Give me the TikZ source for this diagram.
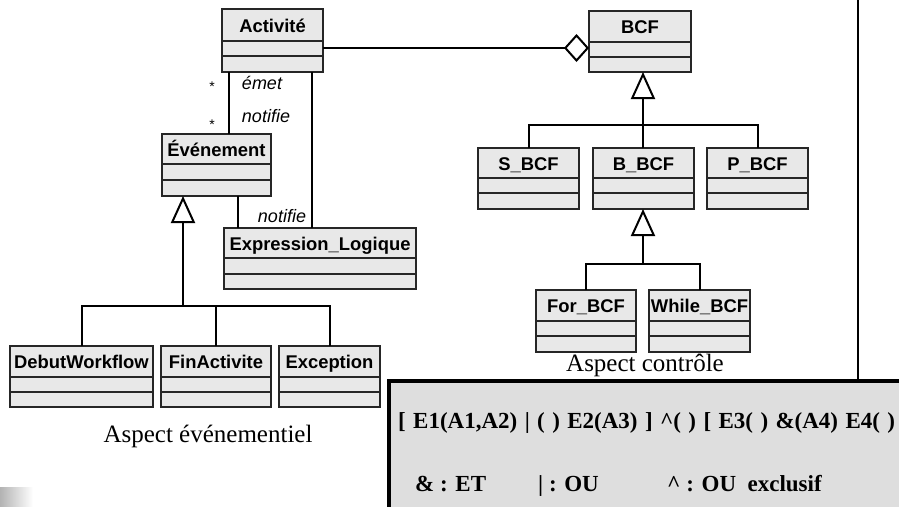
\documentclass[tikz,border=0pt]{standalone}
\usepackage{fontspec}
\setmainfont{Liberation Serif}
\setsansfont{Liberation Sans}
\usetikzlibrary{arrows.meta}
\definecolor{clsfill}{HTML}{E8E8E8}
\definecolor{boxfill}{HTML}{DEDEDE}
\tikzset{
  clsbox/.style={draw=black!85, line width=1.3pt, fill=clsfill, inner sep=0pt, outer sep=0pt},
  clstitle/.style={font=\sffamily\bfseries\fontsize{18.4}{20}\selectfont, inner sep=0pt, anchor=base},
  divline/.style={draw=black!85, line width=1.3pt},
  conn/.style={draw=black, line width=2pt},
  gentip/.style={conn, -{Triangle[open, length=27pt, width=24pt, line width=2pt, fill=white]}},
  aggtip/.style={conn, -{Diamond[open, length=25pt, width=28pt, line width=2pt, fill=white]}},
  rolelbl/.style={font=\sffamily\itshape\fontsize{18}{20}\selectfont, inner sep=0pt, anchor=base},
  starlbl/.style={font=\sffamily\fontsize{14}{16}\selectfont, inner sep=0pt},
  caption/.style={font=\fontsize{25}{27}\selectfont, inner sep=0pt, anchor=base},
  boxtxt/.style={font=\bfseries\fontsize{23}{25}\selectfont, inner sep=0pt, anchor=base west}
}
% name, x1, y1, x2, y2, divider1, divider2, title
\newcommand{\umlcls}[8]{%
  \node[clsbox, anchor=north west, minimum width={(#4-#2)*1pt}, minimum height={(#5-#3)*1pt}] (#1) at (#2,#3) {};
  \node[clstitle] (#1-t) at ({(#2+#4)/2},{(#3+#6)/2+7}) {#8};
  \draw[divline] (#2,#6) -- (#4,#6);
  \draw[divline] (#2,#7) -- (#4,#7);
}
\begin{document}
\begin{tikzpicture}[x=1pt,y=-1pt]
\useasboundingbox (0,0) rectangle (899,506);
% classes
\umlcls{act}{222}{9}{323}{72}{41}{56}{Activité}
\umlcls{evt}{162}{134}{271}{196}{164}{180}{Événement}
\umlcls{expr}{224}{228}{416}{289}{258}{274}{Expression\_Logique}
\umlcls{debut}{10}{346}{153}{407}{377}{392}{DebutWorkflow}
\umlcls{fin}{161}{346}{271}{407}{377}{392}{FinActivite}
\umlcls{exc}{279}{346}{380}{407}{377}{392}{Exception}
\umlcls{bcf}{589}{11}{691}{72}{42}{57}{BCF}
\umlcls{sbcf}{478}{148}{579}{209}{178}{193}{S\_BCF}
\umlcls{bbcf}{593}{148}{694}{209}{178}{193}{B\_BCF}
\umlcls{pbcf}{707}{148}{808}{209}{178}{193}{P\_BCF}
\umlcls{forbcf}{536}{290}{636}{352}{321}{336}{For\_BCF}
\umlcls{whilebcf}{649}{290}{750}{352}{321}{336}{While\_BCF}
% helper coordinates
\coordinate (xa) at (229,0);
\coordinate (xb) at (312,0);
\coordinate (xc) at (238,0);
\coordinate (ya) at (0,48);
\coordinate (evtj) at (183,306);
\coordinate (bcfj) at (643,125);
\coordinate (bbcfj) at (643,264);
% associations
\draw[conn] (act.south -| xa) -- (evt.north -| xa);
\draw[conn] (act.south -| xb) -- (expr.north -| xb);
\draw[conn] (evt.south -| xc) -- (expr.north -| xc);
\draw[aggtip] (act.east |- ya) -- (bcf.west |- ya);
% labels
\node[starlbl] (s1) at (212,87) {*};
\node[starlbl] (s2) at (212,125) {*};
\node[rolelbl] (l1) at (262,89) {émet};
\node[rolelbl] (l2) at (266,122) {notifie};
\node[rolelbl] (l3) at (282,222) {notifie};
% generalizations: events
\draw[conn] (debut.north) |- (evtj);
\draw[conn] (exc.north) |- (evtj);
\draw[conn] (fin.north) -- (fin.north |- evtj);
\draw[gentip] (evtj) -- (evtj |- evt.south);
% generalizations: BCF
\draw[conn] (sbcf.north) |- (bcfj);
\draw[conn] (pbcf.north) |- (bcfj);
\draw[gentip] (bbcf.north -| bcfj) -- (bcfj |- bcf.south);
\draw[conn] (forbcf.north) |- (bbcfj);
\draw[conn] (whilebcf.north) |- (bbcfj);
\draw[gentip] (bbcfj) -- (bbcfj |- bbcf.south);
% captions
\node[caption] (cap1) at (208,442) {Aspect événementiel};
\node[caption] (cap2) at (645,371) {Aspect contrôle};
% separator line
\coordinate (vtop) at (858,0);
\coordinate (vbot) at (858,381);
\draw[conn] (vtop) -- (vbot);
% bottom box
\fill[boxfill] (389,381) rectangle (905,512);
\draw[line width=4pt] (389,512) -- (389,381) -- (905,381);
\node[boxtxt] (expr1) at (398,428) {\spaceskip=7.4pt\relax [ E1(A1,A2) | ( ) E2(A3) ] \textasciicircum( ) [ E3( ) \&(A4) E4( )};
\node[boxtxt] (leg1) at (415,491) {\& : ET};
\node[boxtxt] (leg2) at (538,491) {| : OU};
\node[boxtxt] (leg3) at (667,491) {\textasciicircum\ : OU\ \ exclusif};
% image fragment
\shade[left color=gray!60, right color=white] (0,487) rectangle (33,506);
\end{tikzpicture}
\end{document}
